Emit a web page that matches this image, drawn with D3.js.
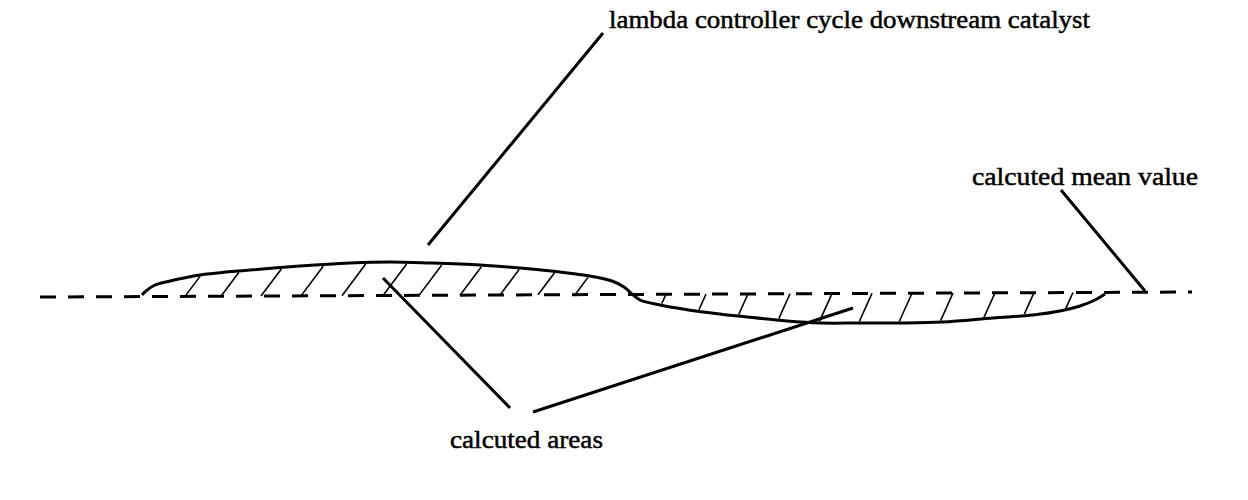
<!DOCTYPE html>
<html>
<head>
<meta charset="utf-8">
<script src="https://cdn.jsdelivr.net/npm/d3@7"></script>
<style>
  html, body { margin: 0; padding: 0; background: #fff; }
  svg { display: block; }
  text { font-family: "Liberation Serif", "Times New Roman", Times, serif; }
</style>
</head>
<body>
<svg id="chart" width="1248" height="500"></svg>
<script>
// ---------- data (x in sample units, y = signal relative to base level) ----------
const curveX = [142, 146, 155, 170, 200, 250, 300, 350, 390, 430, 480, 520, 560, 590, 612, 624, 632, 640, 660, 703, 747, 787, 820, 860, 900, 943, 993, 1033, 1060, 1080, 1095, 1105];
const curveY = [1, 5, 11, 15, 21, 26, 30, 33, 34, 33, 31, 28, 24, 20, 15, 9, 2, -4, -9, -16, -21, -25, -27, -27, -27, -26, -22, -19, -15, -10, -4, 2];
const meanX = [40, 1192];
const meanY = [-1, 4];
const upperHatchX = [185, 221, 261, 301, 342, 383, 419, 460, 500, 538, 575];
const lowerHatchX = [666, 706, 748, 790, 832, 872, 912, 953, 995, 1034, 1073];
const labels = ["lambda controller cycle downstream catalyst", "calcuted mean value", "calcuted areas"];
const leaderTitle = [[428, 51], [603, 263]];
const leaderMean = [[1061, 106], [1145, 5]];
const leaderAreasA = [[383, 18], [510, -112]];
const leaderAreasB = [[533, -116], [853, -12]];

// ---------- scales ----------
const svg = d3.select("#chart");
const x = d3.scaleLinear().domain([0, 1248]).range([0, 1248]);
const y = d3.scaleLinear().domain([0, 100]).range([296, 196]);

const meanAt = d3.scaleLinear().domain(meanX).range(meanY);
const curvePts = curveX.map((v, i) => [v, curveY[i]]);

// mean line
svg.append("line")
  .attr("x1", x(meanX[0])).attr("y1", y(meanY[0]))
  .attr("x2", x(meanX[1])).attr("y2", y(meanY[1]))
  .attr("stroke", "#000").attr("stroke-width", 3)
  .attr("stroke-dasharray", "16,12");

// curve
const line = d3.line().x(d => x(d[0])).y(d => y(d[1])).curve(d3.curveCatmullRom.alpha(0.5));
svg.append("path").datum(curvePts)
  .attr("d", line).attr("fill", "none")
  .attr("stroke", "#000").attr("stroke-width", 3);

function curveAt(px) {
  for (let i = 0; i < curveX.length - 1; i++) {
    if (px >= curveX[i] && px <= curveX[i + 1]) {
      const t = (px - curveX[i]) / (curveX[i + 1] - curveX[i]);
      return curveY[i] + t * (curveY[i + 1] - curveY[i]);
    }
  }
  return 0;
}

// upper hatching
upperHatchX.forEach(bx => {
  const b = meanAt(bx);
  let tx = bx + 20;
  for (let k = 0; k < 4; k++) tx = bx + 0.75 * (curveAt(tx) - b);
  const h = curveAt(tx) - 1.5;
  svg.append("line")
    .attr("x1", x(bx)).attr("y1", y(b))
    .attr("x2", x(bx + 0.75 * (h - b))).attr("y2", y(h))
    .attr("stroke", "#000").attr("stroke-width", 1.6);
});

// lower hatching
lowerHatchX.forEach(tx => {
  const t = meanAt(tx);
  let bx = tx - 8;
  for (let k = 0; k < 4; k++) bx = tx - 0.45 * (t - curveAt(bx));
  const h = curveAt(bx) + 1.5;
  svg.append("line")
    .attr("x1", x(tx)).attr("y1", y(t))
    .attr("x2", x(tx - 0.45 * (t - h))).attr("y2", y(h))
    .attr("stroke", "#000").attr("stroke-width", 1.6);
});

// leader lines
[leaderTitle, leaderMean, leaderAreasA, leaderAreasB].forEach(seg => {
  svg.append("line")
    .attr("x1", x(seg[0][0])).attr("y1", y(seg[0][1]))
    .attr("x2", x(seg[1][0])).attr("y2", y(seg[1][1]))
    .attr("stroke", "#000").attr("stroke-width", 3);
});

// labels
const labelPos = [[609, 28, 481], [972, 185, 226], [450, 448, 153]];
labels.forEach((t, i) => {
  svg.append("text")
    .attr("x", labelPos[i][0]).attr("y", labelPos[i][1])
    .attr("font-size", 26)
    .attr("fill", "#000")
    .attr("stroke", "#000").attr("stroke-width", 0.5)
    .attr("textLength", labelPos[i][2])
    .attr("lengthAdjust", "spacingAndGlyphs")
    .text(t);
});
</script>
</body>
</html>
